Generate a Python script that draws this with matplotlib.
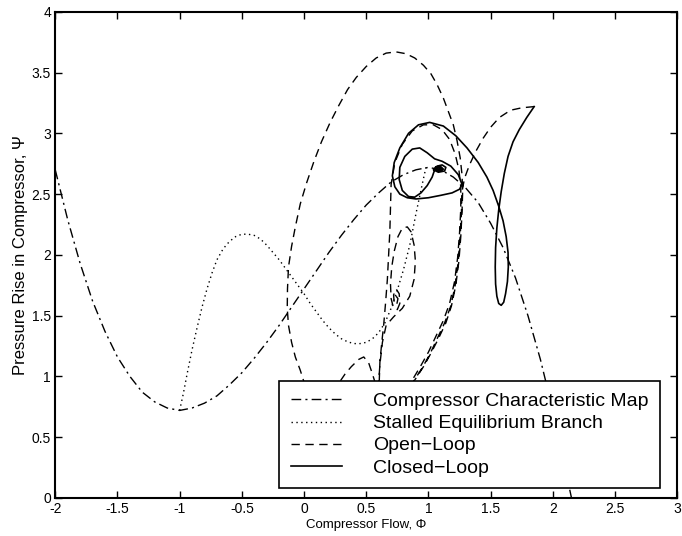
import matplotlib
matplotlib.use("Agg")
import matplotlib.pyplot as plt

plt.rcParams['font.family'] = ['Liberation Sans', 'DejaVu Sans']
plt.rcParams['axes.unicode_minus'] = False

# compressor characteristic map (dash-dot)
char_phi = [-2.0, -1.9, -1.8, -1.7, -1.6, -1.5, -1.4, -1.3, -1.2, -1.1, -1.0,
            -0.9, -0.8, -0.7, -0.6, -0.5, -0.4, -0.3, -0.2, -0.1, 0.0,
            0.1, 0.2, 0.3, 0.4, 0.5, 0.6, 0.7, 0.8, 0.9, 1.0,
            1.1, 1.2, 1.3, 1.4, 1.5, 1.6, 1.7, 1.8, 1.9, 2.0, 2.1, 2.15]
char_psi = [2.70, 2.29, 1.93, 1.62, 1.37, 1.16, 1.00, 0.87, 0.79, 0.74, 0.72,
            0.74, 0.78, 0.84, 0.93, 1.03, 1.15, 1.28, 1.42, 1.57, 1.72,
            1.87, 2.02, 2.16, 2.29, 2.41, 2.51, 2.60, 2.66, 2.70, 2.72,
            2.70, 2.64, 2.55, 2.43, 2.26, 2.06, 1.81, 1.50, 1.14, 0.72, 0.24, 0.0]

# stalled equilibrium branch (dotted)
stall_phi = [-1.0, -0.97, -0.94, -0.9, -0.86, -0.82, -0.78, -0.74, -0.7, -0.65,
             -0.6, -0.55, -0.5, -0.45, -0.4, -0.35, -0.3, -0.25, -0.2, -0.15,
             -0.1, -0.05, 0.0, 0.05, 0.1, 0.15, 0.2, 0.25, 0.3, 0.35, 0.4,
             0.45, 0.5, 0.55, 0.6, 0.65, 0.7, 0.75, 0.8, 0.85, 0.9, 0.95, 0.98]
stall_psi = [0.72, 0.86, 1.02, 1.22, 1.40, 1.57, 1.72, 1.85, 1.96, 2.05,
             2.11, 2.15, 2.17, 2.17, 2.16, 2.13, 2.08, 2.02, 1.96, 1.89,
             1.82, 1.75, 1.68, 1.60, 1.53, 1.46, 1.40, 1.35, 1.31, 1.285, 1.27,
             1.27, 1.28, 1.31, 1.36, 1.44, 1.56, 1.71, 1.88, 2.08, 2.34, 2.58, 2.72]

# open-loop trajectory (dashed)
open_phi = [1.85, 1.75, 1.66, 1.57, 1.50, 1.44, 1.38, 1.33, 1.29, 1.27, 1.265, 1.255,
            1.24, 1.215, 1.18, 1.13, 1.07, 1.01, 0.95, 0.88, 0.80, 0.70, 0.62, 0.58,
            0.55, 0.52, 0.48, 0.44, 0.38, 0.33, 0.29, 0.22, 0.14, 0.06, 0.01, -0.03,
            -0.07, -0.10, -0.125, -0.135, -0.133, -0.125, -0.10, -0.07, -0.03, 0.02,
            0.08, 0.14, 0.21, 0.28, 0.35, 0.42, 0.50, 0.58, 0.66, 0.74, 0.82, 0.89,
            0.96, 1.02, 1.07, 1.12, 1.16, 1.20, 1.23, 1.255, 1.27, 1.275, 1.27, 1.26,
            1.245, 1.22, 1.185, 1.14, 1.08, 1.02, 0.96, 0.89, 0.80, 0.70, 0.63, 0.605,
            0.61, 0.625, 0.64, 0.655, 0.67, 0.68, 0.69, 0.695, 0.70, 0.73, 0.79, 0.87,
            0.96, 1.04, 1.11, 1.17, 1.215, 1.245, 1.26, 1.26, 1.25, 1.235, 1.21, 1.17,
            1.12, 1.06, 1.00, 0.94, 0.87, 0.78, 0.68, 0.62, 0.60, 0.61, 0.63, 0.66,
            0.72, 0.79, 0.85, 0.885, 0.895, 0.885, 0.86, 0.83, 0.79, 0.755, 0.725,
            0.705, 0.695, 0.70, 0.72, 0.75, 0.77, 0.765, 0.74, 0.72, 0.725, 0.745,
            0.755, 0.74, 0.735]
open_psi = [3.22, 3.21, 3.19, 3.13, 3.05, 2.96, 2.85, 2.74, 2.63, 2.52, 2.35, 2.15,
            1.95, 1.75, 1.58, 1.44, 1.31, 1.18, 1.07, 0.96, 0.86, 0.80, 0.84, 0.92,
            1.02, 1.11, 1.16, 1.14, 1.08, 1.02, 0.96, 0.87, 0.82, 0.84, 0.92, 1.05,
            1.16, 1.28, 1.42, 1.56, 1.72, 1.90, 2.07, 2.23, 2.42, 2.59,
            2.77, 2.93, 3.09, 3.23, 3.36, 3.46, 3.55, 3.62, 3.66, 3.67, 3.655, 3.62,
            3.56, 3.49, 3.40, 3.29, 3.18, 3.07, 2.94, 2.80, 2.66, 2.52, 2.35, 2.15,
            1.95, 1.75, 1.58, 1.44, 1.31, 1.19, 1.08, 0.97, 0.87, 0.82, 0.86, 0.97,
            1.12, 1.28, 1.42, 1.60, 1.80, 2.00, 2.20, 2.40, 2.58, 2.76, 2.91, 3.02,
            3.07, 3.07, 3.03, 2.95, 2.83, 2.70, 2.56, 2.38, 2.18, 1.98, 1.78, 1.60,
            1.46, 1.33, 1.20, 1.09, 0.97, 0.86, 0.82, 0.86, 0.95, 1.10, 1.28, 1.42,
            1.49, 1.56, 1.66, 1.80, 1.95, 2.08, 2.19, 2.23, 2.22, 2.15, 2.03,
            1.90, 1.76, 1.64, 1.56, 1.55, 1.60, 1.68, 1.72, 1.67, 1.60, 1.59,
            1.64, 1.66, 1.62]

# closed-loop trajectory (solid)
closed_phi = [1.85, 1.79, 1.73, 1.68, 1.64, 1.61, 1.585, 1.565, 1.55, 1.54, 1.537,
              1.54, 1.55, 1.565, 1.585, 1.605, 1.62, 1.635, 1.642, 1.64, 1.625, 1.60,
              1.565, 1.52, 1.47, 1.40, 1.31, 1.22, 1.12, 1.01, 0.92, 0.84, 0.77,
              0.725, 0.71, 0.73, 0.77, 0.83, 0.90, 1.00, 1.10, 1.19, 1.25, 1.27,
              1.24, 1.18, 1.11, 1.05, 0.99, 0.93, 0.87, 0.81, 0.77, 0.765, 0.79,
              0.84, 0.89, 0.94, 0.99, 1.03, 1.05, 1.07, 1.11, 1.14, 1.13, 1.08,
              1.04, 1.06, 1.10, 1.12, 1.09, 1.06, 1.08, 1.10, 1.09]
closed_psi = [3.22, 3.13, 3.03, 2.93, 2.81, 2.67, 2.52, 2.37, 2.22, 2.06, 1.90,
              1.76, 1.66, 1.60, 1.585, 1.61, 1.68, 1.78, 1.90, 2.02, 2.15, 2.28,
              2.40, 2.53, 2.64, 2.76, 2.88, 2.98, 3.06, 3.09, 3.07, 3.00, 2.88,
              2.76, 2.65, 2.56, 2.50, 2.47, 2.46, 2.47, 2.49, 2.51, 2.54, 2.58,
              2.66, 2.73, 2.77, 2.79, 2.84, 2.88, 2.87, 2.81, 2.72, 2.62, 2.53,
              2.48, 2.475, 2.51, 2.57, 2.64, 2.70, 2.73, 2.74, 2.72, 2.69, 2.68,
              2.70, 2.725, 2.725, 2.705, 2.69, 2.70, 2.715, 2.71, 2.70]

fig = plt.figure(figsize=(6.82, 5.36), dpi=100)
ax = fig.add_axes([0.081, 0.071, 0.912, 0.907])

lw = 1.0
ax.plot(char_phi, char_psi, color='black', lw=lw, dashes=(7, 3, 1.5, 3),
        label='Compressor Characteristic Map')
ax.plot(stall_phi, stall_psi, color='black', lw=lw, dashes=(1, 2.5),
        label='Stalled Equilibrium Branch')
ax.plot(open_phi, open_psi, color='black', lw=lw, dashes=(6, 4),
        label='Open\u2212Loop')
ax.plot(closed_phi, closed_psi, color='black', lw=1.2, label='Closed\u2212Loop')

ax.set_xlim(-2, 3)
ax.set_ylim(0, 4)
ax.set_xticks([-2, -1.5, -1, -0.5, 0, 0.5, 1, 1.5, 2, 2.5, 3])
ax.set_xticklabels(['-2', '-1.5', '-1', '-0.5', '0', '0.5', '1', '1.5', '2', '2.5', '3'])
ax.set_yticks([0, 0.5, 1, 1.5, 2, 2.5, 3, 3.5, 4])
ax.set_yticklabels(['0', '0.5', '1', '1.5', '2', '2.5', '3', '3.5', '4'])
ax.tick_params(direction='in', top=True, right=True, length=5, width=1,
               labelsize=10, pad=3)
for s in ax.spines.values():
    s.set_linewidth(1.5)

ax.set_xlabel('Compressor Flow, \u03a6', fontsize=9.5, labelpad=2)
ax.set_ylabel('Pressure Rise in Compressor, \u03a8', fontsize=12, labelpad=3)

leg = ax.legend(loc='lower right', bbox_to_anchor=(0.972, 0.02), borderaxespad=0,
                fontsize=14, handlelength=2.6, handletextpad=1.6, labelspacing=0.23,
                borderpad=0.6, fancybox=False, framealpha=1, edgecolor='black')
leg.get_frame().set_linewidth(1.2)

fig.savefig('out.png', dpi=100)
